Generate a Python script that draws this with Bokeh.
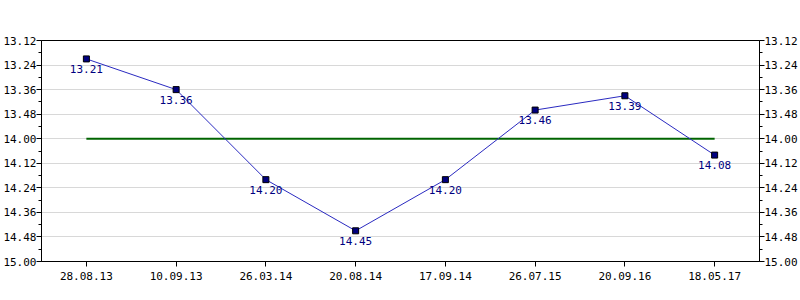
from bokeh.plotting import figure
from bokeh.models import Range1d, FixedTicker, LinearAxis, ColumnDataSource, FactorRange
from bokeh.core.properties import value
from bokeh.embed import file_html
from bokeh.resources import INLINE

dates = ["28.08.13", "10.09.13", "26.03.14", "20.08.14", "17.09.14", "26.07.15", "20.09.16", "18.05.17"]
times = ["13.21", "13.36", "14.20", "14.45", "14.20", "13.46", "13.39", "14.08"]
target = "14.00"
tick_labels = ["13.12", "13.24", "13.36", "13.48", "14.00", "14.12", "14.24", "14.36", "14.48", "15.00"]


def to_sec(s):
    m, sec = s.split(".")
    return int(m) * 60 + int(sec)


secs = [to_sec(t) for t in times]
tick_secs = [to_sec(t) for t in tick_labels]
minor = [a + (b - a) / 2 for a, b in zip(tick_secs[:-1], tick_secs[1:])]
target_sec = to_sec(target)

FONT = "DejaVu Sans Mono"

p = figure(width=800, height=300, output_backend="svg", toolbar_location=None,
           x_range=FactorRange(*dates, range_padding=0),
           y_range=Range1d(start=tick_secs[-1], end=tick_secs[0]),
           min_border_left=40, min_border_right=40, min_border_top=40, min_border_bottom=39)
p.background_fill_color = "white"
p.border_fill_color = "white"
p.outline_line_color = "black"
p.xgrid.grid_line_color = None
p.ygrid.grid_line_color = "#d8d8d8"
p.ygrid.ticker = FixedTicker(ticks=tick_secs)

overrides = {t: l for t, l in zip(tick_secs, tick_labels)}


def style_y(ax):
    ax.ticker = FixedTicker(ticks=tick_secs, minor_ticks=minor)
    ax.major_label_overrides = overrides
    ax.major_tick_in = 0
    ax.major_tick_out = 5
    ax.minor_tick_in = 0
    ax.minor_tick_out = 3
    ax.axis_line_color = "black"
    ax.major_tick_line_color = "black"
    ax.minor_tick_line_color = "black"
    ax.major_label_text_font = FONT
    ax.major_label_text_font_size = "11px"
    ax.major_label_text_color = "black"
    ax.major_label_standoff = 0


style_y(p.yaxis[0])
ry = LinearAxis()
style_y(ry)
p.add_layout(ry, "right")

xa = p.xaxis[0]
xa.major_tick_in = 0
xa.major_tick_out = 5
xa.axis_line_color = "black"
xa.major_label_text_font = FONT
xa.major_label_text_font_size = "11px"
xa.major_label_text_color = "black"
xa.major_label_standoff = 5

p.line(x=[dates[0], dates[-1]], y=[target_sec, target_sec], line_color="#006400", line_width=2)

src = ColumnDataSource(dict(x=dates, y=secs, lab=times))
p.line("x", "y", source=src, line_color="#2a2ac0", line_width=1)
p.scatter("x", "y", source=src, marker="square", size=6, fill_color="#000080", line_color="black")
p.text("x", "y", text="lab", source=src, text_align="center", text_baseline="top", y_offset=6,
       text_font=value(FONT), text_font_size="11px", text_color="#000080")

open("out.html", "w").write(file_html(p, INLINE))
